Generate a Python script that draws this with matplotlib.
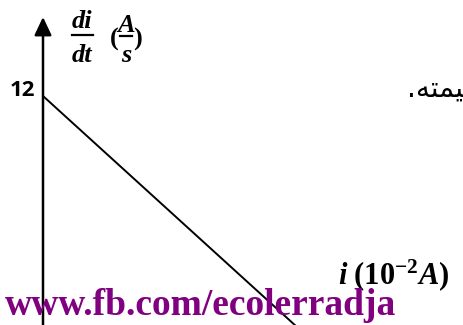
import matplotlib
matplotlib.use("Agg")
import matplotlib.pyplot as plt
from matplotlib.lines import Line2D

# data
i_values = [0, 4]          # i (10^-2 A)
didt_values = [12, 0]      # di/dt (A/s)
y_tick_label = "12"

plt.rcParams['mathtext.fontset'] = 'custom'
plt.rcParams['mathtext.rm'] = 'Liberation Serif'
plt.rcParams['mathtext.it'] = 'Liberation Serif:italic'
plt.rcParams['mathtext.bf'] = 'Liberation Serif:bold'
plt.rcParams['mathtext.bfit'] = 'Liberation Serif:bold:italic'

W, H = 463, 325
fig = plt.figure(figsize=(W / 100, H / 100), dpi=100)
ax = fig.add_axes([0, 0, 1, 1])
ax.axis('off')

# pixel layout
x0px, x1px = 43, 297
y12px, y0px = 96, 327
sx = (x1px - x0px) / (i_values[1] - i_values[0])
sy = (y0px - y12px) / (didt_values[0] - didt_values[1])
ax.set_xlim((0 - x0px) / sx, (W - x0px) / sx)
ax.set_ylim((y0px - H) / sy, y0px / sy)

# axes arrows
ytip = (y0px - 17) / sy
xtip = (362 - x0px) / sx
arrow = dict(arrowstyle='-|>,head_length=0.55,head_width=0.26', lw=1.8,
             color='black', shrinkA=0, shrinkB=0, mutation_scale=20)
ax.annotate('', xy=(0, ytip), xytext=(0, -2), arrowprops=arrow)
ax.annotate('', xy=(xtip, 0), xytext=(-1, 0), arrowprops=arrow)

# line
ax.plot(i_values, didt_values, color='black', lw=1.4, solid_capstyle='butt')

def fx(px):
    return px / W

def fy(py):
    return 1 - py / H

fig.text(fx(35), fy(91), y_tick_label, ha='right', va='center',
         fontsize=16, fontweight='bold', family='Open Sans')

# y label: di/dt (A/s), drawn as stacked fractions
lab = dict(family='Liberation Serif', fontweight='bold', fontstyle='italic',
           fontsize=19, ha='center', va='baseline')
fig.text(fx(82), fy(28), 'di', **lab)
fig.text(fx(82), fy(62), 'dt', **lab)
fig.add_artist(Line2D([fx(72), fx(93)], [fy(35), fy(35)], lw=1.6, color='black'))
fig.text(fx(126), fy(32), 'A', **lab)
fig.text(fx(126), fy(62), 's', **lab)
fig.add_artist(Line2D([fx(120.5), fx(131.5)], [fy(36), fy(36)], lw=1.6, color='black'))
par = dict(family='Liberation Serif', fontweight='bold', fontsize=19,
           ha='center', va='baseline')
fig.text(fx(114), fy(46), '(', **par)
fig.text(fx(137), fy(46), ')', **par)

fig.text(fx(338), fy(275),
         r'$\mathbfit{i}\ \mathbf{(10^{-2}}\mathbfit{A}\mathbf{)}$',
         ha='left', va='center', fontsize=22)

fig.text(fx(5), fy(315), 'www.fb.com/ecolerradja', ha='left', va='baseline',
         fontsize=27, fontweight='bold', family='Liberation Serif', color='#800080')

fig.text(fx(407), fy(97), '.\ufeea\ufe98\ufee4\ufef4', ha='left', va='baseline',
         fontsize=20, family='DejaVu Sans', color='black')

fig.savefig('out.png', dpi=100)
